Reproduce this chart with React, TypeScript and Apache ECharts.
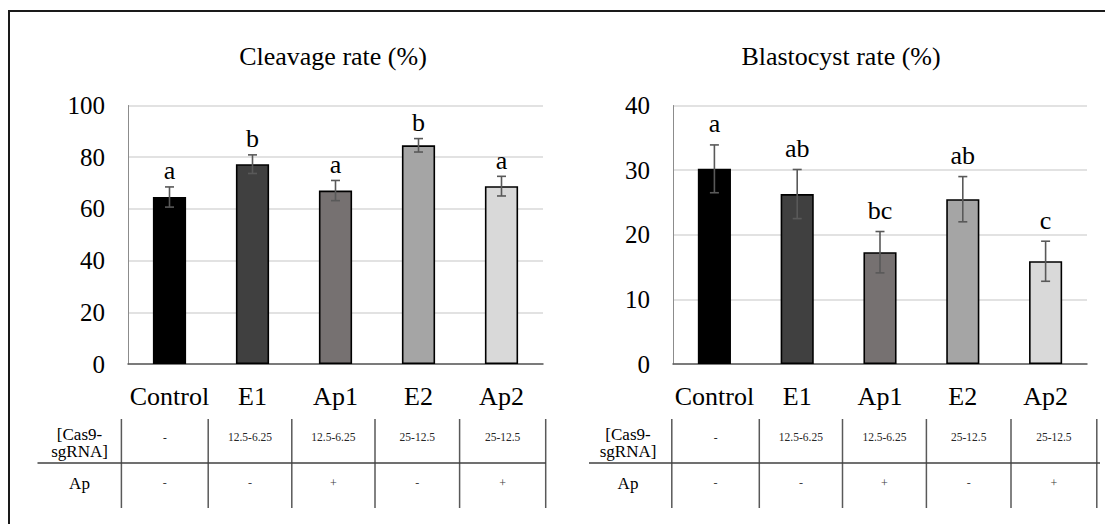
import React, { useEffect, useRef } from "react";
import * as echarts from "echarts";

// ---------- data ----------
const categories = ["Control", "E1", "Ap1", "E2", "Ap2"];
const cleavageMean = [64.6, 77.3, 67.1, 84.6, 68.8];
const cleavageErr = [3.9, 3.6, 3.9, 2.6, 3.8];
const cleavageLetters = ["a", "b", "a", "b", "a"];
const blastMean = [30.2, 26.3, 17.3, 25.5, 15.9];
const blastErr = [3.7, 3.8, 3.2, 3.5, 3.1];
const blastLetters = ["a", "ab", "bc", "ab", "c"];
const cleavageTicks = { min: 0, max: 100, interval: 20 };
const blastTicks = { min: 0, max: 40, interval: 10 };
const cas9Dose = ["-", "12.5-6.25", "12.5-6.25", "25-12.5", "25-12.5"];
const apTreatment = ["-", "-", "+", "-", "+"];
const rowLabelCas9 = "[Cas9-\nsgRNA]";
const rowLabelAp = "Ap";
const titles = ["Cleavage rate (%)", "Blastocyst rate (%)"];

// ---------- styles ----------
const barColors = ["#000000", "#404040", "#767171", "#a5a5a5", "#d9d9d9"];
const FONT = "'Liberation Serif', 'DejaVu Serif', serif";

export default function App() {
  const ref = useRef<HTMLDivElement>(null);

  useEffect(() => {
    if (!ref.current) return;
    const chart = echarts.init(ref.current, null, { renderer: "svg" });

    const grids = [
      { left: 128, top: 105.5, width: 415, height: 258.5 },
      { left: 673, top: 105.5, width: 414, height: 258.5 },
    ];
    const tableCols = [
      [121.4, 208.2, 291.8, 375, 459.6, 545.7],
      [671.8, 759.3, 842.5, 926.4, 1011, 1096.8],
    ];
    const tableHLine = [
      [37.5, 546],
      [589, 1100],
    ];
    const rowLabelX = [79.5, 628];
    const titleX = [333, 841];
    const letterGap = [3, 8];

    const makeErr = (gi: number, mean: number[], err: number[], letters: string[]) => ({
      type: "custom",
      xAxisIndex: gi,
      yAxisIndex: gi,
      z: 5,
      data: mean.map((m, i) => [i, m, err[i]]),
      renderItem: (params: any, api: any) => {
        const idx = api.value(0);
        const m = api.value(1);
        const e = api.value(2);
        const top = api.coord([idx, m + e]);
        const bot = api.coord([idx, m - e]);
        const cw = 4.5;
        const ls = { stroke: "#595959", lineWidth: 1.6 };
        return {
          type: "group",
          children: [
            { type: "line", shape: { x1: top[0], y1: top[1], x2: bot[0], y2: bot[1] }, style: ls },
            { type: "line", shape: { x1: top[0] - cw, y1: top[1], x2: top[0] + cw, y2: top[1] }, style: ls },
            { type: "line", shape: { x1: bot[0] - cw, y1: bot[1], x2: bot[0] + cw, y2: bot[1] }, style: ls },
            {
              type: "text",
              x: top[0],
              y: top[1] - letterGap[gi],
              style: {
                text: letters[params.dataIndex],
                fill: "#000",
                fontSize: 26,
                fontFamily: FONT,
                align: "center",
                verticalAlign: "bottom",
              },
            },
          ],
        };
      },
    });

    const makeBar = (gi: number, mean: number[]) => ({
      type: "bar",
      xAxisIndex: gi,
      yAxisIndex: gi,
      barWidth: "40%",
      data: mean.map((v, i) => ({
        value: v,
        itemStyle: { color: barColors[i], borderColor: "#000", borderWidth: 1.6 },
      })),
    });

    const xAxis = [0, 1].map((gi) => ({
      type: "category",
      gridIndex: gi,
      data: categories,
      boundaryGap: true,
      axisTick: { show: false },
      axisLine: { show: true, lineStyle: { color: "#595959", width: 1.5 } },
      axisLabel: { color: "#000", fontSize: 26, fontFamily: FONT, margin: 19, interval: 0 },
    }));
    const yAxis = [cleavageTicks, blastTicks].map((t, gi) => ({
      type: "value",
      gridIndex: gi,
      min: t.min,
      max: t.max,
      interval: t.interval,
      axisLine: { show: true, lineStyle: { color: "#8c8c8c", width: 1 } },
      axisTick: { show: false },
      splitLine: { show: true, lineStyle: { color: "#d9d9d9", width: 1.5 } },
      axisLabel: { color: "#000", fontSize: 25, fontFamily: FONT, margin: 23 },
    }));

    const graphics: any[] = [
      {
        type: "rect",
        shape: { x: 9, y: 11, width: 1200, height: 600 },
        style: { fill: "none", stroke: "#1a1a1a", lineWidth: 2 },
        silent: true,
      },
    ];
    [0, 1].forEach((gi) => {
      const cols = tableCols[gi];
      cols.forEach((x) => {
        graphics.push({
          type: "line",
          shape: { x1: x, y1: 419, x2: x, y2: 508 },
          style: { stroke: "#595959", lineWidth: 1.5 },
        });
      });
      graphics.push({
        type: "line",
        shape: { x1: tableHLine[gi][0], y1: 463, x2: tableHLine[gi][1], y2: 463 },
        style: { stroke: "#404040", lineWidth: 1.5 },
      });
      graphics.push({
        type: "text",
        x: rowLabelX[gi],
        y: 443,
        style: {
          text: rowLabelCas9,
          fill: "#000",
          fontSize: 17,
          lineHeight: 17,
          fontFamily: FONT,
          align: "center",
          verticalAlign: "middle",
        },
      });
      graphics.push({
        type: "text",
        x: rowLabelX[gi],
        y: 483,
        style: { text: rowLabelAp, fill: "#000", fontSize: 17, fontFamily: FONT, align: "center", verticalAlign: "middle" },
      });
      for (let i = 0; i < categories.length; i++) {
        const cx = (cols[i] + cols[i + 1]) / 2;
        graphics.push({
          type: "text",
          x: cx,
          y: 437,
          style: { text: cas9Dose[i], fill: "#262626", fontSize: 11.5, fontFamily: FONT, align: "center", verticalAlign: "middle" },
        });
        graphics.push({
          type: "text",
          x: cx,
          y: 483,
          style: { text: apTreatment[i], fill: "#404040", fontSize: 12, fontFamily: FONT, align: "center", verticalAlign: "middle" },
        });
      }
    });

    chart.setOption({
      animation: false,
      backgroundColor: "#fff",
      title: titles.map((t, gi) => ({
        text: t,
        left: titleX[gi],
        top: 43,
        textAlign: "center",
        padding: 0,
        textStyle: { color: "#000", fontSize: 26, fontWeight: "normal", fontFamily: FONT },
      })),
      grid: grids,
      xAxis,
      yAxis,
      series: [
        makeBar(0, cleavageMean),
        makeErr(0, cleavageMean, cleavageErr, cleavageLetters),
        makeBar(1, blastMean),
        makeErr(1, blastMean, blastErr, blastLetters),
      ],
      graphic: graphics,
    });

    return () => chart.dispose();
  }, []);

  return (
    <div
      ref={ref}
      style={{ position: "absolute", left: 0, top: 0, width: 1105, height: 524 }}
    />
  );
}
